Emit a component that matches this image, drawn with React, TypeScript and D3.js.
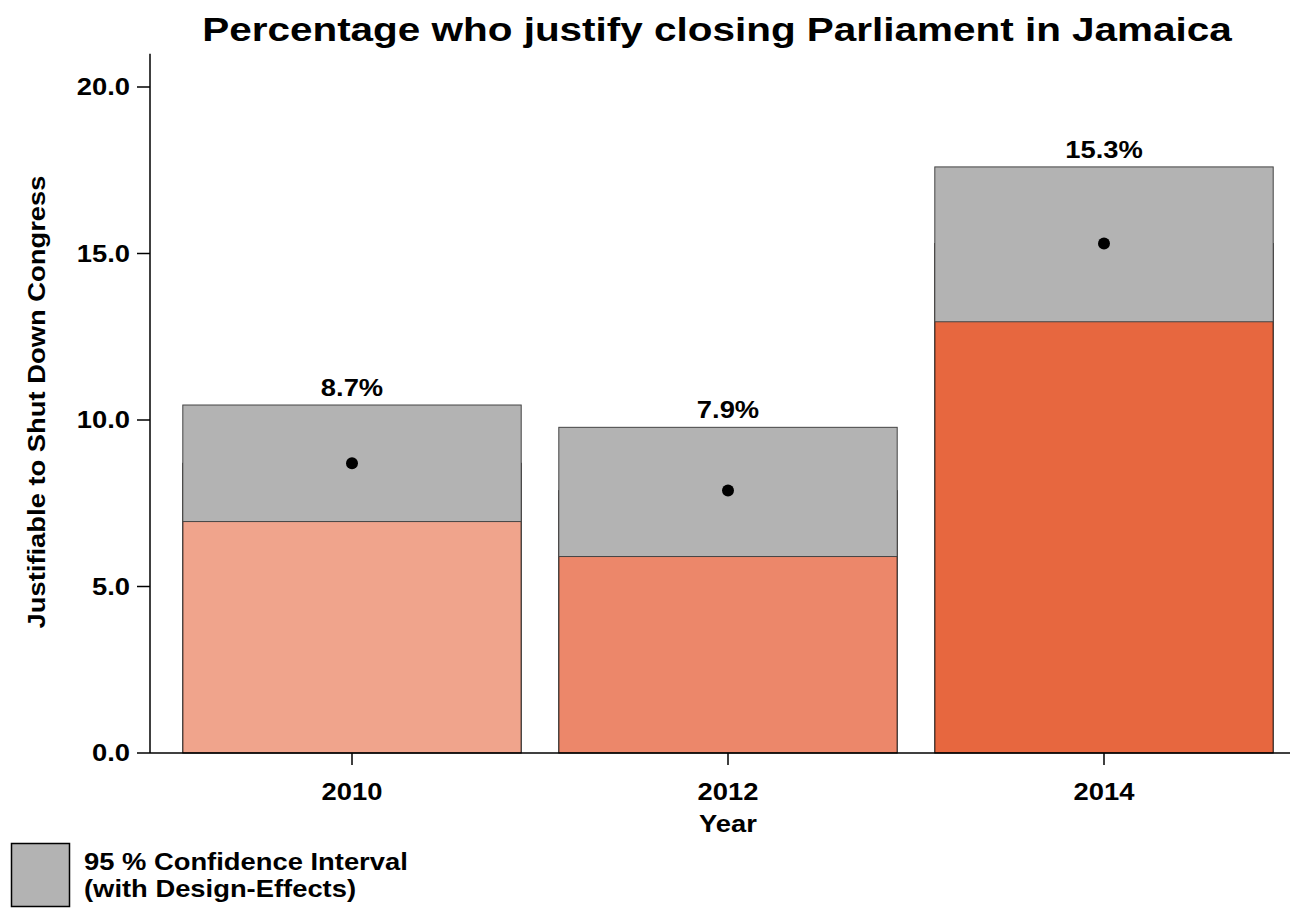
import React from "react";
import * as d3 from "d3";

const years = ["2010", "2012", "2014"];
const means = [8.7, 7.88, 15.3];
const lowerCI = [6.95, 5.9, 12.95];
const upperCI = [10.45, 9.78, 17.6];
const labels = ["8.7%", "7.9%", "15.3%"];
const barColors = ["#f0a48c", "#ec876a", "#e7673f"];
const yTicks = [0, 5, 10, 15, 20];

const W = 1291;
const H = 908;
const FONT = "'Liberation Sans', Arial, sans-serif";
const SX = 1.19;

function T({ x, y, size, anchor = "start", rotate = 0, children }: { x: number; y: number; size: number; anchor?: string; rotate?: number; children: React.ReactNode }) {
  return (
    <text transform={`translate(${x},${y}) rotate(${rotate}) scale(${SX},1)`} textAnchor={anchor} fontSize={size}>
      {children}
    </text>
  );
}

export default function App() {
  const y = d3.scaleLinear().domain([0, 21]).range([753, 53.7]);
  const x = d3.scaleBand<string>().domain(years).range([164, 1292]).paddingInner(0.1).paddingOuter(0.05);
  const bw = x.bandwidth();
  return (
    <svg width={W} height={H} style={{ position: "absolute", left: 0, top: 0 }} fontFamily={FONT} fontWeight="bold">
      <T x={717} y={41} size={34} anchor="middle">Percentage who justify closing Parliament in Jamaica</T>
      {years.map((yr, i) => {
        const x0 = x(yr)!;
        return (
          <g key={yr}>
            <rect x={x0} y={y(means[i])} width={bw} height={y(0) - y(means[i])} fill={barColors[i]} stroke="#000" strokeWidth={1} />
            <rect x={x0} y={y(upperCI[i])} width={bw} height={y(lowerCI[i]) - y(upperCI[i])} fill="#b3b3b3" stroke="#444" strokeWidth={1} />
            <circle cx={x0 + bw / 2} cy={y(means[i])} r={6} fill="#000" />
            <T x={x0 + bw / 2} y={y(upperCI[i]) - 9} size={23} anchor="middle">{labels[i]}</T>
            <line x1={x0 + bw / 2} x2={x0 + bw / 2} y1={753} y2={765} stroke="#000" strokeWidth={1.5} />
            <T x={x0 + bw / 2} y={800} size={23} anchor="middle">{yr}</T>
          </g>
        );
      })}
      <line x1={150} x2={1290} y1={753} y2={753} stroke="#000" strokeWidth={1.5} />
      <line x1={150} x2={150} y1={53.7} y2={753} stroke="#000" strokeWidth={1.5} />
      {yTicks.map((t) => (
        <g key={t}>
          <line x1={137} x2={150} y1={y(t)} y2={y(t)} stroke="#000" strokeWidth={1.5} />
          <T x={130} y={y(t) + 8} size={23} anchor="end">{t.toFixed(1)}</T>
        </g>
      ))}
      <T x={728} y={832} size={23} anchor="middle">Year</T>
      <T x={45} y={402} size={23} anchor="middle" rotate={-90}>Justifiable to Shut Down Congress</T>
      <rect x={11.5} y={843.5} width={58} height={63} fill="#b3b3b3" stroke="#000" strokeWidth={1.5} />
      <T x={84} y={870} size={23}>95 % Confidence Interval</T>
      <T x={84} y={897} size={23}>(with Design-Effects)</T>
    </svg>
  );
}
